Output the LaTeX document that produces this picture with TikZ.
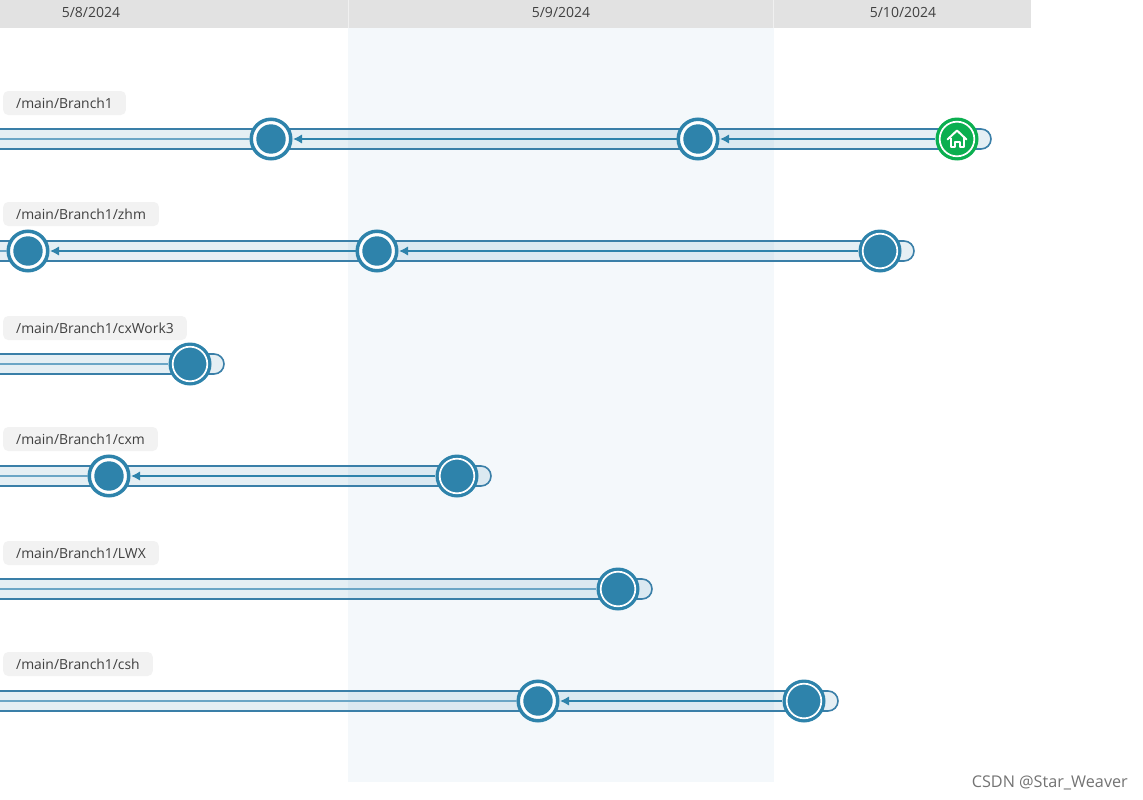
\documentclass[tikz,border=0pt]{standalone}
\usepackage{fontspec}
\setmainfont{Open Sans}
\usetikzlibrary{arrows.meta}
\definecolor{gitblue}{HTML}{2E83AB}
\definecolor{gitline}{HTML}{3A7FA8}
\definecolor{gitfaint}{HTML}{6BA6C6}
\definecolor{gitgreen}{HTML}{0BAF50}
\definecolor{headgray}{HTML}{E2E2E2}
\definecolor{bandblue}{HTML}{F4F8FB}
\definecolor{labelgray}{HTML}{F2F2F2}
\definecolor{labeltext}{HTML}{404040}
\tikzset{
  datelabel/.style={font=\fontsize{14}{16}\selectfont,text=labeltext,inner sep=0pt},
  branchlabel/.style={anchor=west,fill=labelgray,rounded corners=5pt,minimum height=24pt,inner xsep=13pt,inner ysep=0pt,
    font=\fontsize{13.9}{16}\selectfont,text=labeltext},
  barbody/.style={draw=gitline,line width=1.6pt,fill=gitblue,fill opacity=.12},
  tip/.style={draw=gitblue,line width=2.8pt,-{Latex[length=9pt,width=9.5pt]},shorten >=0.5pt},
  plainline/.style={draw=gitfaint,line width=2.4pt},
  commitnode/.style={circle,draw=gitblue,line width=3.5pt,fill=white,minimum size=39.5pt,inner sep=0pt,
    path picture={\fill[gitblue] (path picture bounding box.center) circle (14.7pt);}},
  headnode/.style={circle,fill=#1,minimum size=43pt,inner sep=0pt},
  headring/.style={draw=white,line width=1.7pt}
}
\begin{document}
\begin{tikzpicture}[x=1pt,y=-1pt]
\useasboundingbox (0,0) rectangle (1143,800);
\fill[white] (0,0) rectangle (1143,800);
\fill[bandblue] (347.5,28) rectangle (773.5,782);
\fill[headgray] (0,0) rectangle (1031,28);
\draw[white!50!headgray,line width=.6pt] (348,0) -- (348,28) (773,0) -- (773,28);
\node[datelabel] (d1) at (91,12) {5/8/2024};
\node[datelabel] (d2) at (561,12) {5/9/2024};
\node[datelabel] (d3) at (903,12) {5/10/2024};

% bars
\foreach \yy/\xe in {139/957,251/880,364/190,476/457,589/618,701/804}{
  \path[barbody] (-3,\yy-10) -- (\xe+24,\yy-10) arc[start angle=-90,end angle=90,radius=10] -- (-3,\yy+10);
}

% labels
\node[branchlabel] (l1) at (3,103) {/main/Branch1};
\node[branchlabel] (l2) at (3,214) {/main/Branch1/zhm};
\node[branchlabel] (l3) at (3,328) {/main/Branch1/cxWork3};
\node[branchlabel] (l4) at (3,439) {/main/Branch1/cxm};
\node[branchlabel] (l5) at (3,553) {/main/Branch1/LWX};
\node[branchlabel] (l6) at (3,664) {/main/Branch1/csh};

% free ends
\coordinate (e1) at (-3,139);
\coordinate (e2) at (-3,251);
\coordinate (e3) at (-3,364);
\coordinate (e4) at (-3,476);
\coordinate (e5) at (-3,589);
\coordinate (e6) at (-3,701);

% commits
\node[commitnode] (a1) at (271,139) {};
\node[commitnode] (a2) at (698,139) {};
\node[headnode=gitgreen] (a3) at (957,139) {};
\node[commitnode] (b1) at (28,251) {};
\node[commitnode] (b2) at (377,251) {};
\node[headnode=gitblue] (b3) at (880,251) {};
\node[headnode=gitblue] (c1) at (190,364) {};
\node[commitnode] (d4) at (109,476) {};
\node[headnode=gitblue] (d5) at (457,476) {};
\node[headnode=gitblue] (f1) at (618,589) {};
\node[commitnode] (g1) at (538,701) {};
\node[headnode=gitblue] (g2) at (804,701) {};

% white rings of the head commits
\foreach \h in {a3,b3,c1,d5,f1,g2}{
  \draw[headring] (\h.center) circle[radius=17.3];
}

% connectors
\draw[plainline] (a1) -- (e1);
\draw[tip] (a2) -- (a1);
\draw[tip] (a3) -- (a2);
\draw[plainline] (b1) -- (e2);
\draw[tip] (b2) -- (b1);
\draw[tip] (b3) -- (b2);
\draw[plainline] (c1) -- (e3);
\draw[plainline] (d4) -- (e4);
\draw[tip] (d5) -- (d4);
\draw[plainline] (f1) -- (e5);
\draw[plainline] (g1) -- (e6);
\draw[tip] (g2) -- (g1);

% home icon
\begin{scope}[shift={(957,139)}]
  \draw[white,line width=2pt,line join=round,line cap=round] (-9.5,0.5) -- (0,-8.5) -- (9.5,0.5);
  \draw[white,line width=2pt,line join=round] (-6.5,-1.5) -- (-6.5,8) -- (-2.5,8) -- (-2.5,2.5) -- (2.5,2.5) -- (2.5,8) -- (6.5,8) -- (6.5,-1.5);
\end{scope}

\node[anchor=east,inner sep=0pt,font=\fontsize{16.2}{18}\selectfont,text=black!55] (wm) at (1128,783) {CSDN @Star\_Weaver};
\end{tikzpicture}
\end{document}
